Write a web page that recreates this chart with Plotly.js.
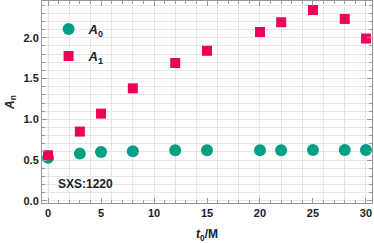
<!DOCTYPE html>
<html><head><meta charset="utf-8">
<script src="https://cdn.plot.ly/plotly-3.0.1.min.js"></script>
<style>body{margin:0;padding:0;background:#fff}#c{width:374px;height:243px}</style>
</head><body><div id="c"></div>
<script>
var t0 = [0, 3, 5, 8, 12, 15, 20, 22, 25, 28, 30];
var A0 = [0.53, 0.58, 0.60, 0.61, 0.62, 0.62, 0.62, 0.62, 0.625, 0.625, 0.625];
var A1 = [0.56, 0.85, 1.07, 1.38, 1.69, 1.84, 2.07, 2.19, 2.34, 2.23, 1.99];
var label = 'SXS:1220';

var F = 'Liberation Sans, Arial, sans-serif';
var gridc = '#e6e6e6';
var framec = '#999999';
var data = [
  {x: t0, y: A0, type: 'scatter', mode: 'markers', name: '<b><i>A</i><sub>0</sub></b>', legendgroup: 'a',
   marker: {symbol: 'circle', size: 12, color: '#009E85'}},
  {x: t0, y: A1, type: 'scatter', mode: 'markers', name: '<b><i>A</i><sub>1</sub></b>', legendgroup: 'b',
   marker: {symbol: 'square', size: 10, color: '#EE0058'}},
  {x: [null], y: [null], xaxis: 'x2', type: 'scatter', mode: 'markers', showlegend: false, hoverinfo: 'skip'}
];
var layout = {
  width: 374, height: 243,
  margin: {l: 42, r: 2, t: 1, b: 40},
  paper_bgcolor: '#fff', plot_bgcolor: '#fff',
  font: {family: F, size: 11, color: '#222'},
  showlegend: true,
  legend: {x: 0.02, y: 0.935, xanchor: 'left', yanchor: 'top', bgcolor: 'rgba(0,0,0,0)',
           font: {family: F, size: 13, color: '#222'}, traceorder: 'grouped', tracegroupgap: 7},
  xaxis: {range: [-0.57, 30.57], dtick: 5, tick0: 0, showgrid: false, zeroline: false,
          showline: true, linecolor: framec, linewidth: 1, mirror: 'ticks',
          ticks: 'inside', ticklen: 5, tickcolor: framec,
          minor: {dtick: 1, ticks: 'inside', ticklen: 3, tickcolor: framec, showgrid: false},
          tickfont: {family: F, size: 11, color: '#222', weight: 'bold'},
          title: {text: '<b><i>t</i><sub>0</sub>/M</b>', font: {family: F, size: 12, color: '#222'}, standoff: 13}},
  xaxis2: {overlaying: 'x', matches: 'x', range: [-0.57, 30.57], dtick: 2, tick0: 0, showgrid: true, gridcolor: gridc,
           gridwidth: 1, showticklabels: false, ticks: '', showline: false, zeroline: false},
  yaxis: {range: [-0.025, 2.45], dtick: 0.5, tick0: 0, showgrid: true, gridcolor: gridc, zeroline: false,
          showline: true, linecolor: framec, linewidth: 1, mirror: 'ticks',
          ticks: 'inside', ticklen: 5, tickcolor: framec, tickformat: '.1f',
          minor: {dtick: 0.1, ticks: 'inside', ticklen: 3, tickcolor: framec, showgrid: true, gridcolor: gridc},
          tickfont: {family: F, size: 11, color: '#222', weight: 'bold'},
          title: {text: '<b><i>A</i><sub>n</sub></b>', font: {family: F, size: 12, color: '#222'}, standoff: 6}},
  annotations: [{x: 3.5, y: 0.21, xref: 'x', yref: 'y', text: '<b>' + label + '</b>', showarrow: false,
                 font: {family: F, size: 12, color: '#222'}}]
};
Plotly.newPlot('c', data, layout, {displayModeBar: false, staticPlot: true});
</script></body></html>
